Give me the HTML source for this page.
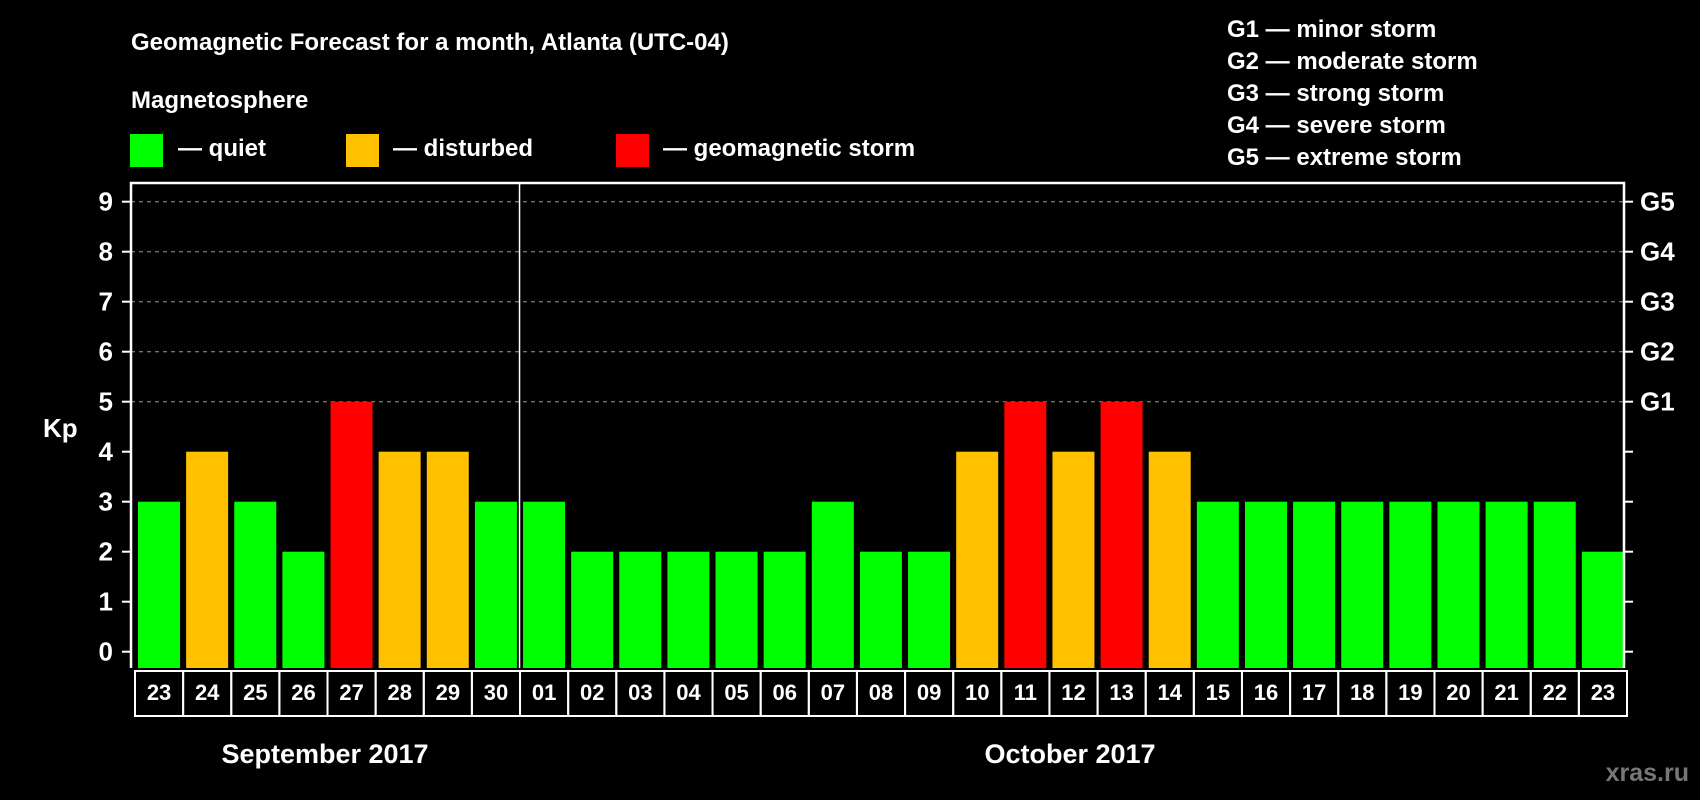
<!DOCTYPE html>
<html><head><meta charset="utf-8"><style>
html,body{margin:0;padding:0;background:#000;width:1700px;height:800px;overflow:hidden}
svg{display:block;font-family:"Liberation Sans",Arial,sans-serif;font-weight:bold}
</style></head><body>
<svg id="chart" width="1700" height="800" viewBox="0 0 1700 800">
<rect x="0" y="0" width="1700" height="800" fill="#000"/>
<text x="131" y="50" fill="#fff" font-size="24">Geomagnetic Forecast for a month, Atlanta (UTC-04)</text>
<text x="131" y="108" fill="#fff" font-size="24">Magnetosphere</text>
<rect x="130" y="134" width="33" height="33" fill="#00ff00"/>
<text x="178" y="156" fill="#fff" font-size="24">— quiet</text>
<rect x="346" y="134" width="33" height="33" fill="#ffc000"/>
<text x="393" y="156" fill="#fff" font-size="24">— disturbed</text>
<rect x="616" y="134" width="33" height="33" fill="#ff0000"/>
<text x="663" y="156" fill="#fff" font-size="24">— geomagnetic storm</text>
<g font-size="24" fill="#fff">
<text x="1227" y="37">G1 — minor storm</text>
<text x="1227" y="69">G2 — moderate storm</text>
<text x="1227" y="101">G3 — strong storm</text>
<text x="1227" y="133">G4 — severe storm</text>
<text x="1227" y="165">G5 — extreme storm</text>
</g>
<text x="43" y="437" fill="#fff" font-size="26">Kp</text>
<text x="325" y="763" fill="#fff" font-size="27" text-anchor="middle">September 2017</text>
<text x="1070" y="763" fill="#fff" font-size="27" text-anchor="middle">October 2017</text>
<text x="1689" y="781" fill="#777" font-size="25" text-anchor="end">xras.ru</text>
<g id="grid"></g><g id="bars"></g><g id="axes"></g>
</svg>
<script>
const dates = ["23","24","25","26","27","28","29","30","01","02","03","04","05","06","07","08","09","10","11","12","13","14","15","16","17","18","19","20","21","22","23"];
const kpValues = [3,4,3,2,5,4,4,3,3,2,2,2,2,2,3,2,2,4,5,4,5,4,3,3,3,3,3,3,3,3,2];
const yTicks = [0,1,2,3,4,5,6,7,8,9];
const gLabels = ["","","","","","G1","G2","G3","G4","G5"];
const monthBreakIndex = 8;

const NS="http://www.w3.org/2000/svg";
const L=131,R=1624,T=183,B=668,CELLB=716;
const y0=651.7, unit=50;
const pitch=(R-L-1)/dates.length;
function yScale(v){return y0-unit*v;}
function xScale(i){return 135+pitch*i;}
function mk(tag,attrs,parent){const e=document.createElementNS(NS,tag);for(const k in attrs)e.setAttribute(k,attrs[k]);parent.appendChild(e);return e;}
function color(v){return v>=5?"#ff0000":(v>=4?"#ffc000":"#00ff00");}
const grid=document.getElementById("grid"),bars=document.getElementById("bars"),axes=document.getElementById("axes");

yTicks.forEach((t,k)=>{
  const y=yScale(t);
  if(t>=5){const g=mk("line",{x1:L,x2:R,y1:y,y2:y,stroke:"#999","stroke-dasharray":"4,4","stroke-width":1},grid);
    
    }
  const lt=mk("line",{x1:L-9,x2:L,y1:y,y2:y,stroke:"#fff","stroke-width":2},axes);
  
  
  const rt=mk("line",{x1:R,x2:R+9,y1:y,y2:y,stroke:"#fff","stroke-width":2},axes);
  
  
  const tx=mk("text",{x:113,y:y+9,fill:"#fff","font-size":26,"text-anchor":"end"},axes);
  tx.textContent=t;
  
  
  if(gLabels[k]){const gt=mk("text",{x:1640,y:y+9,fill:"#fff","font-size":26},axes);
    gt.textContent=gLabels[k];
    
    }
});

kpValues.forEach((v,i)=>{
  const x=xScale(i)+3;
  const r=mk("rect",{x:x,y:yScale(v),width:42,height:B-yScale(v),fill:color(v)},bars);
  
  
  const c=mk("rect",{x:xScale(i),y:B+3,width:pitch,height:CELLB-B-3,fill:"none",stroke:"#fff","stroke-width":2},axes);
  
  
  const t=mk("text",{x:xScale(i)+pitch/2,y:700,fill:"#fff","font-size":22,"text-anchor":"middle"},axes);
  t.textContent=dates[i];
  
  
});

const sx=xScale(monthBreakIndex)-0.5;
const sep=mk("line",{x1:sx,x2:sx,y1:T,y2:B,stroke:"#fff","stroke-width":1.5},axes);


const fr=mk("polyline",{points:`${L},${B} ${L},${T} ${R},${T} ${R},${B}`,fill:"none",stroke:"#fff","stroke-width":2.5},axes);


</script>
</body></html>
